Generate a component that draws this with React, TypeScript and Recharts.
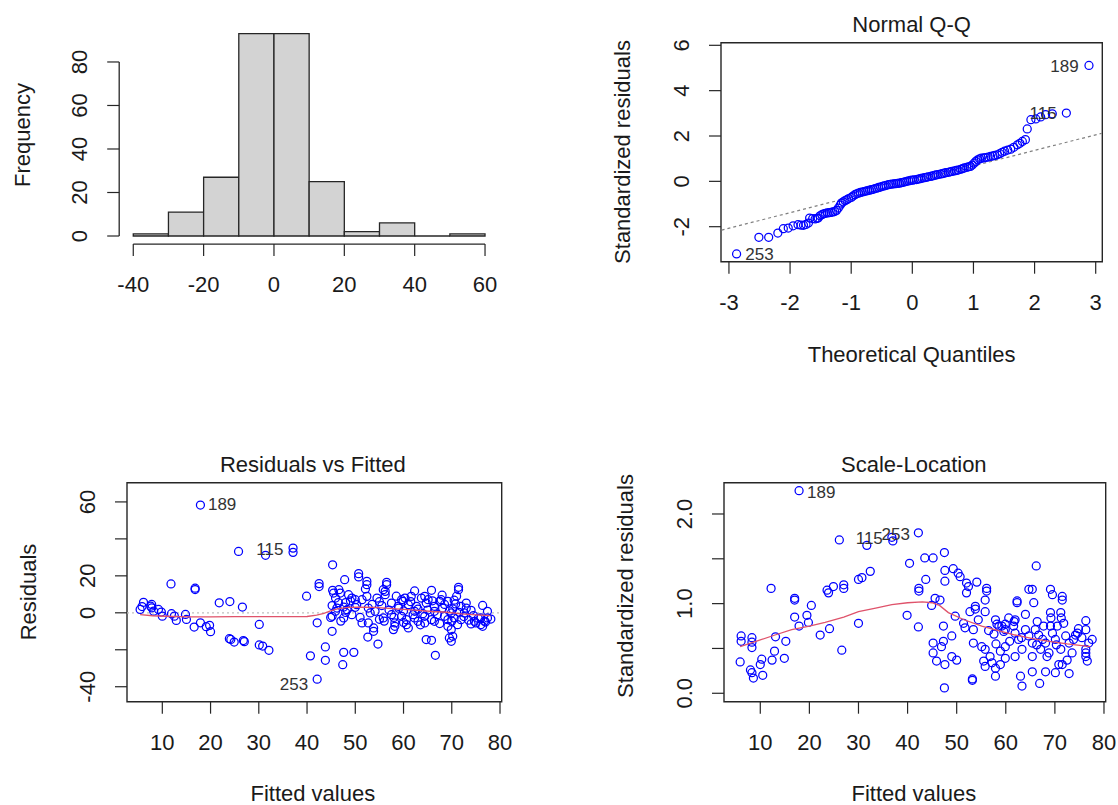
import React from 'react';
import { ScatterChart, Scatter, XAxis, YAxis, ReferenceArea, ReferenceLine } from 'recharts';

// ---------------- data ----------------
// Histogram of residuals
const histBinStarts = [-40, -30, -20, -10, 0, 10, 20, 30, 40, 50];
const histBinWidth = 10;
const histCounts = [1, 11, 27, 93, 93, 25, 2, 6, 0, 1];
const histXTicks = [-40, -20, 0, 20, 40, 60];
const histYTicks = [0, 20, 40, 60, 80];

// Normal Q-Q (theoretical quantile, standardized residual)
const qqPoints: [number, number][] = [
  [-2.875, -3.2], [-2.51, -2.47], [-2.35, -2.47], [-2.2, -2.28], [-2.11, -2.09], [-2.03, -2.06], [-1.95, -1.96],
  [-1.87, -1.91], [-1.82, -1.93], [-1.78, -1.94], [-1.74, -1.9], [-1.7, -1.84], [-1.68, -1.62], [-1.63, -1.64],
  [-1.59, -1.66], [-1.56, -1.63], [-1.54, -1.62], [-1.51, -1.52], [-1.48, -1.47], [-1.45, -1.43], [-1.42, -1.41],
  [-1.39, -1.39], [-1.36, -1.38], [-1.33, -1.37], [-1.3, -1.35], [-1.27, -1.33], [-1.24, -1.28], [-1.21, -1.18],
  [-1.18, -1.05], [-1.16, -0.96], [-1.13, -0.9], [-1.1, -0.85], [-1.07, -0.81], [-1.04, -0.76], [-1.0, -0.71],
  [-0.97, -0.65], [-0.94, -0.59], [-0.91, -0.55], [-0.88, -0.52], [-0.85, -0.49], [-0.82, -0.47], [-0.79, -0.45],
  [-0.76, -0.43], [-0.73, -0.41], [-0.7, -0.39], [-0.67, -0.37], [-0.64, -0.35], [-0.61, -0.32], [-0.58, -0.3],
  [-0.55, -0.27], [-0.52, -0.25], [-0.49, -0.22], [-0.46, -0.2], [-0.43, -0.18], [-0.39, -0.15], [-0.36, -0.13],
  [-0.33, -0.12], [-0.3, -0.11], [-0.27, -0.1], [-0.24, -0.09], [-0.21, -0.08], [-0.18, -0.06], [-0.15, -0.04],
  [-0.12, -0.02], [-0.09, 0.0], [-0.06, 0.02], [-0.03, 0.04], [0.0, 0.05], [0.03, 0.07], [0.07, 0.08], [0.1, 0.1],
  [0.13, 0.12], [0.16, 0.14], [0.2, 0.16], [0.23, 0.18], [0.26, 0.2], [0.3, 0.22], [0.33, 0.24], [0.36, 0.26],
  [0.39, 0.28], [0.42, 0.3], [0.46, 0.32], [0.49, 0.34], [0.52, 0.36], [0.55, 0.38], [0.59, 0.4], [0.62, 0.42],
  [0.65, 0.44], [0.69, 0.46], [0.72, 0.48], [0.75, 0.5], [0.79, 0.53], [0.82, 0.56], [0.85, 0.59], [0.89, 0.62],
  [0.92, 0.64], [0.95, 0.66], [0.98, 0.72], [1.01, 0.8], [1.04, 0.88], [1.07, 0.95], [1.1, 0.99], [1.13, 1.02],
  [1.17, 1.03], [1.2, 1.05], [1.24, 1.07], [1.28, 1.1], [1.32, 1.12], [1.35, 1.14], [1.39, 1.17], [1.43, 1.22],
  [1.47, 1.28], [1.51, 1.33], [1.56, 1.38], [1.61, 1.42], [1.66, 1.5], [1.72, 1.61], [1.76, 1.68], [1.8, 1.76],
  [1.85, 1.84], [1.88, 2.31], [1.94, 2.72], [2.02, 2.75], [2.1, 2.84], [2.18, 2.94], [2.29, 2.98], [2.52, 3.01],
  [2.89, 5.11],
];
const qqRefLine: [number, number][] = [[-3.12, -2.15], [3.1, 2.12]];
const qqXTicks = [-3, -2, -1, 0, 1, 2, 3];
const qqYTicks = [-2, 0, 2, 4, 6];
const qqIds = [{ x: 2.49, y: 5.1, t: '189' }, { x: 2.14, y: 3.01, t: '115' }, { x: -2.5, y: -3.19, t: '253' }];

// Residuals vs Fitted (fitted, residual)
const rvfPoints: [number, number][] = [
  [17.9, 58.3], [25.8, 33.2], [31.4, 31.1], [37.1, 35.0], [37.1, 32.7], [11.8, 15.6], [16.8, 13.3], [16.8, 12.6],
  [21.8, 5.4], [24.0, 6.1], [26.6, 3.1], [39.9, 9.0], [42.5, 15.8], [42.5, 14.2], [5.4, 1.8], [6.1, 5.7], [5.8, 3.4],
  [7.8, 4.5], [7.8, 2.7], [7.6, 3.6], [8.2, 0.9], [9.2, 1.8], [10.0, -1.8], [9.8, 0.4], [11.9, -0.5], [12.5, -1.8],
  [12.9, -4.1], [14.8, -0.9], [15.0, -3.6], [16.6, -7.7], [17.9, -5.4], [19.1, -7.5], [20.0, -10.2], [19.8, -6.8],
  [23.9, -14.0], [24.2, -14.4], [24.9, -15.8], [27.0, -15.6], [26.8, -15.0], [30.1, -6.3], [30.1, -17.4],
  [30.8, -18.0], [32.1, -20.3], [40.7, -23.3], [42.1, -35.9], [42.1, -5.4],
  [45.3, 26.0], [45.3, 12.2], [46.6, 12.5], [47.8, 17.9], [50.7, 21.2], [50.7, 19.4], [52.4, 17.0], [52.4, 15.2],
  [52.1, 12.9], [56.2, 11.6], [56.5, 16.5], [56.5, 15.2], [55.8, 12.5], [62.3, 11.8], [65.8, 12.2], [71.4, 13.8],
  [71.4, 12.5], [45.5, 10.7], [46.9, 10.7], [45.9, 8.0], [48.6, 9.8], [49.3, 8.0], [50.0, 7.1], [51.4, 7.1],
  [52.4, 8.9], [54.5, 8.0], [56.2, 9.8], [59.6, 7.1], [59.9, 6.2], [60.3, 8.0], [61.6, 8.9], [63.7, 8.0], [64.4, 8.9],
  [65.1, 7.1], [67.5, 6.2], [67.8, 7.1], [69.2, 6.2], [70.5, 6.8], [73.0, 5.3], [45.2, 3.9], [46.2, 2.6], [47.6, 3.1],
  [48.3, 1.7], [50.3, 4.4], [52.7, 2.6], [55.5, 3.9], [57.5, 5.3], [58.9, 3.5], [61.0, 4.4], [62.7, 3.5], [64.7, 5.3],
  [66.4, 3.5], [68.1, 2.6], [70.2, 2.1], [71.9, 3.5], [74.0, 1.35], [76.4, 4.0], [77.4, 0.8], [45.9, 0.8], [54.1, 0.8],
  [62.3, 0.8], [66.4, 0.8], [69.9, -0.1], [72.6, -0.1], [45.2, -1.9], [47.6, -2.8], [49.3, -1.0], [51.4, -5.5],
  [52.7, -5.5], [53.1, -0.1], [55.8, -2.8], [57.5, -1.0], [58.2, -5.5], [59.6, -1.9], [60.6, -3.7], [62.3, -2.8],
  [63.0, -4.6], [64.4, -1.9], [65.8, -3.7], [66.4, -4.6], [68.5, -1.9], [69.2, -3.7], [70.5, -2.8], [71.9, -3.7],
  [74.7, -4.6], [76.0, -2.8], [77.4, -2.8], [78.1, -3.4], [45.2, -10.0], [53.8, -8.2], [53.8, -10.0], [58.2, -7.3],
  [60.6, -6.4], [61.0, -8.2], [64.4, -5.5], [69.2, -7.3], [71.2, -6.4], [69.9, -9.1], [76.0, -6.4], [76.4, -7.3],
  [57.9, -9.1], [52.6, -13.1], [54.7, -16.9], [64.7, -14.5], [65.8, -14.9], [66.6, -23.0], [69.5, -13.6],
  [69.9, -15.4], [70.2, -12.7], [43.8, -18.5], [43.8, -25.7], [47.6, -21.4], [49.7, -21.4], [47.4, -28.1],
  [48.0, 5.5], [49.0, 6.5], [53.5, 4.5], [55.0, 6.0], [57.0, 1.5], [58.0, -2.5], [60.0, 1.0], [61.5, 6.0], [63.0, 2.0],
  [64.0, -0.5], [65.0, 1.5], [66.0, 6.5], [67.0, -1.0], [68.5, 4.5], [69.5, 1.0], [70.8, 4.8], [71.5, 0.3],
  [72.5, -2.0], [73.5, -4.0], [74.5, -1.5], [75.5, -3.0], [76.8, -4.5], [73.0, 2.5], [62.0, -1.0], [59.0, 2.5],
  [56.0, -4.5], [51.0, -2.5], [48.0, 0.2], [46.5, 5.5], [70.0, -4.5], [67.5, -5.8], [63.5, -6.5], [60.0, -5.2],
  [55.0, -3.5], [50.0, 3.0], [47.0, -4.5], [44.9, -2.5], [71.0, 9.0], [68.0, 9.5], [58.5, 9.0], [74.0, -6.0],
  [75.0, -5.5], [77.0, -5.0],
];
const rvfSmooth: [number, number][] = [
  [5.4, -1.0], [8, -1.6], [12, -2.0], [16, -2.2], [20, -2.2], [25, -2.1], [30, -2.1], [35, -2.1], [40, -2.0],
  [42, -1.2], [43.5, -0.3], [45, 1.2], [46.5, 2.3], [48.5, 2.9], [51, 3.1], [54, 2.9], [57, 2.4], [60, 1.9],
  [63, 1.3], [66, 0.7], [69, 0.3], [72, -0.6], [75, -1.1], [78, -1.5],
];
const fittedTicks = [10, 20, 30, 40, 50, 60, 70, 80];
const rvfYTicks = [-40, -20, 0, 20, 40, 60];
const rvfYTickLabels = [-40, 0, 20, 60];
const rvfIds = [{ x: 22.4, y: 58.7, t: '189' }, { x: 32.3, y: 34.6, t: '115' }, { x: 37.3, y: -38.6, t: '253' }];

// Scale-Location (fitted, sqrt |standardized residual|)
const slPoints: [number, number][] = [
  [17.9, 2.26], [26.1, 1.71], [31.7, 1.65], [36.8, 1.74], [37.0, 1.70], [42.2, 1.79], [40.4, 1.45], [32.4, 1.36],
  [30.0, 1.27], [30.7, 1.29], [27.0, 1.21], [27.0, 1.17], [24.9, 1.19], [23.6, 1.15], [23.9, 1.12], [12.2, 1.17],
  [17.0, 1.06], [17.0, 1.04], [20.4, 0.98], [17.0, 0.85], [19.5, 0.87], [19.8, 0.79], [17.9, 0.75], [13.1, 0.63],
  [15.2, 0.58], [22.2, 0.65], [24.1, 0.72], [30.0, 0.78], [39.9, 0.87], [42.2, 0.74], [26.6, 0.48], [6.1, 0.64],
  [6.1, 0.58], [8.3, 0.62], [8.3, 0.57], [8.3, 0.51], [5.9, 0.35], [8.0, 0.26], [8.6, 0.17], [10.5, 0.2], [8.3, 0.23],
  [10.3, 0.38], [12.4, 0.37], [12.9, 0.47], [14.9, 0.39], [10.0, 0.32],
  [43.5, 1.51], [45.2, 1.51], [47.5, 1.57], [66.2, 1.42], [47.6, 1.37], [49.3, 1.39], [50.3, 1.34], [50.7, 1.3],
  [47.6, 1.25], [43.7, 1.27], [42.3, 1.17], [42.3, 1.14], [52.0, 1.23], [52.4, 1.19], [52.0, 1.12], [54.1, 1.24],
  [56.1, 1.17], [56.1, 1.14], [55.8, 1.04], [45.6, 1.06], [46.6, 1.04], [44.9, 0.98], [53.8, 0.97], [53.8, 0.94],
  [62.3, 1.03], [62.3, 1.01], [65.7, 1.01], [64.7, 1.16], [65.4, 1.16], [69.1, 1.16], [69.5, 1.1], [71.5, 1.08],
  [71.5, 1.04], [47.3, 0.75], [64.0, 0.88], [69.1, 0.9], [71.2, 0.9], [76.3, 0.81], [76.3, 0.71], [49.7, 0.86],
  [51.4, 0.78], [51.7, 0.73], [53.4, 0.71], [52.7, 0.91], [55.8, 0.91], [54.4, 0.82], [45.2, 0.56], [47.3, 0.58],
  [46.9, 0.52], [49.0, 0.64], [45.2, 0.45], [45.9, 0.36], [47.6, 0.32], [49.0, 0.41], [50.0, 0.37], [47.5, 0.06],
  [53.2, 0.16], [53.2, 0.145], [63.0, 0.19], [63.3, 0.08], [65.4, 0.24], [66.9, 0.11], [68.1, 0.24], [70.1, 0.23],
  [72.9, 0.22], [71.5, 0.32], [76.3, 0.49], [76.3, 0.45], [76.3, 0.41], [76.6, 0.36], [77.6, 0.6], [76.9, 0.56],
  [55.1, 0.52], [55.8, 0.49], [56.8, 0.41], [57.2, 0.34], [55.8, 0.3], [57.9, 0.28], [58.9, 0.32], [57.9, 0.19],
  [59.9, 0.52], [58.9, 0.47], [53.4, 0.56], [57.9, 0.82], [58.2, 0.77], [59.2, 0.75], [59.9, 0.71], [60.6, 0.84],
  [61.6, 0.75], [61.9, 0.67], [62.6, 0.6], [63.3, 0.49], [64.0, 0.71], [64.7, 0.64], [65.4, 0.56], [66.0, 0.71],
  [66.7, 0.65], [67.1, 0.49], [67.7, 0.75], [68.1, 0.56], [68.8, 0.45], [69.5, 0.67], [70.1, 0.6], [70.5, 0.75],
  [71.2, 0.49], [71.8, 0.78], [72.2, 0.64], [72.9, 0.56], [73.5, 0.45], [74.2, 0.65], [74.6, 0.67], [72.5, 0.37],
  [70.8, 0.32], [68.4, 0.41], [65.4, 0.41], [61.9, 0.41], [59.9, 0.39], [55.5, 0.36], [61.9, 0.82], [59.6, 0.69],
  [66.4, 0.8], [69.1, 0.75], [71.3, 0.84], [69.2, 0.84], [61.7, 0.8], [59.9, 0.77], [58.6, 0.75], [57.6, 0.66],
  [56.5, 0.7], [63.2, 0.62], [67.5, 0.6], [73.8, 0.6], [75.5, 0.62], [74.8, 0.72], [60.8, 0.58], [58.0, 0.55],
  [70.3, 0.54], [66.3, 0.54],
];
const slSmooth: [number, number][] = [
  [5.9, 0.52], [9.7, 0.59], [13, 0.65], [16.4, 0.71], [20, 0.75], [23.2, 0.79], [27, 0.85], [30, 0.91], [33.5, 0.95],
  [36.8, 0.99], [40, 1.01], [43, 1.02], [45, 1.01], [46.5, 0.98], [48.3, 0.9], [51.5, 0.82], [55.1, 0.75],
  [58.5, 0.7], [61.9, 0.65], [65.5, 0.61], [68.8, 0.58], [72.5, 0.55], [77.2, 0.52],
];
const slYTicks = [0, 0.5, 1, 1.5, 2];
const slYTickLabels = [0, 1, 2];
const slIds = [{ x: 22.4, y: 2.25, t: '189' }, { x: 32.2, y: 1.73, t: '115' }, { x: 37.6, y: 1.78, t: '253' }];

// ---------------- styling / layout ----------------
const FONT = '"Liberation Sans", Arial, Helvetica, sans-serif';
const INK = '#1a1a1a';
const FRAME = '#262626';
const PT_BLUE = '#0000FF';
const SMOOTH_RED = '#DF536B';
const TICK_LEN = 12;
const LABEL_GAP = 40;
const AXW = 20;

type Box = { l: number; t: number; r: number; b: number };
type Frame = { left: number; top: number; w: number; h: number };

const marginFor = (f: Frame, b: Box) => ({
  left: b.l - f.left - AXW,
  top: b.t - f.top,
  right: f.left + f.w - b.r,
  bottom: f.top + f.h - b.b - AXW,
});

const toXY = (pts: [number, number][]) => pts.map(([x, y]) => ({ x, y }));

const xTick = (labels: number[], fmt: (v: number) => string) => (p: any) => {
  const { x, y, payload } = p;
  const v = payload.value;
  return (
    <g>
      <line x1={x} x2={x} y1={y} y2={y + TICK_LEN} stroke={FRAME} strokeWidth={1.2} />
      {labels.includes(v) ? (
        <text x={x} y={y + LABEL_GAP} dy="0.36em" textAnchor="middle" fontFamily={FONT} fontSize={22} fill={INK}>
          {fmt(v)}
        </text>
      ) : null}
    </g>
  );
};

const yTick = (labels: number[], fmt: (v: number) => string) => (p: any) => {
  const { x, y, payload } = p;
  const v = payload.value;
  const tx = x - LABEL_GAP;
  return (
    <g>
      <line x1={x} x2={x - TICK_LEN} y1={y} y2={y} stroke={FRAME} strokeWidth={1.2} />
      {labels.includes(v) ? (
        <text x={tx} y={y} dy="0.36em" textAnchor="middle" transform={`rotate(-90 ${tx} ${y})`}
          fontFamily={FONT} fontSize={22} fill={INK}>
          {fmt(v)}
        </text>
      ) : null}
    </g>
  );
};

const circleShape = (p: any) =>
  p.cx == null ? <g /> : <circle cx={p.cx} cy={p.cy} r={4} fill="none" stroke={PT_BLUE} strokeWidth={1.25} />;
const emptyShape = () => <g />;
const idShape = (p: any) =>
  p.cx == null ? <g /> : (
    <text x={p.cx} y={p.cy} dy="0.36em" textAnchor="middle" fontFamily={FONT} fontSize={17} fill="#333">
      {p.payload.t}
    </text>
  );

const Caption = ({ x, y, text, vertical }: { x: number; y: number; text: string; vertical?: boolean }) => (
  <div
    style={{
      position: 'absolute', left: x - 250, top: y - 10, width: 500, height: 20, lineHeight: '20px',
      textAlign: 'center', fontFamily: FONT, fontSize: 22, color: INK, whiteSpace: 'nowrap',
      transform: vertical ? 'rotate(-90deg)' : undefined, pointerEvents: 'none',
    }}
  >
    {text}
  </div>
);

const fmtInt = (v: number) => String(v);
const fmtOne = (v: number) => v.toFixed(1);

type PanelProps = {
  frame: Frame; box: Box; xDomain: [number, number]; yDomain: [number, number];
  xTicks: number[]; yTicks: number[]; xLabels: number[]; yLabels: number[];
  xFmt: (v: number) => string; yFmt: (v: number) => string; children: React.ReactNode;
};

const Panel = ({ frame, box, xDomain, yDomain, xTicks, yTicks, xLabels, yLabels, xFmt, yFmt, children }: PanelProps) => (
  <div style={{ position: 'absolute', left: frame.left, top: frame.top, width: frame.w, height: frame.h }}>
    <ScatterChart width={frame.w} height={frame.h} margin={marginFor(frame, box)}>
      <XAxis type="number" dataKey="x" domain={xDomain} ticks={xTicks} interval={0} allowDataOverflow
        axisLine={false} tickLine={false} tickSize={0} tickMargin={0} height={AXW} tick={xTick(xLabels, xFmt)} />
      <YAxis type="number" dataKey="y" domain={yDomain} ticks={yTicks} interval={0} allowDataOverflow
        axisLine={false} tickLine={false} tickSize={0} tickMargin={0} width={AXW} tick={yTick(yLabels, yFmt)} />
      {children}
    </ScatterChart>
  </div>
);

// geometry
const F1: Frame = { left: 0, top: 0, w: 559, h: 400 };
const B1: Box = { l: 119.2, t: 25.6, r: 499.1, b: 244.1 };
const F2: Frame = { left: 559, top: 0, w: 559, h: 400 };
const B2: Box = { l: 721, t: 42.7, r: 1102.3, b: 261.7 };
const F3: Frame = { left: 0, top: 400, w: 559, h: 405 };
const B3: Box = { l: 127, t: 482.7, r: 501.7, b: 701.7 };
const F4: Frame = { left: 559, top: 400, w: 559, h: 405 };
const B4: Box = { l: 724, t: 482.7, r: 1105.7, b: 701.7 };

const D1x: [number, number] = [-44, 64];
const D1y: [number, number] = [-3.72, 96.72];
const D2x: [number, number] = [-3.13, 3.108];
const D2y: [number, number] = [-3.544, 6.115];
const D3x: [number, number] = [2.68, 80.35];
const D3y: [number, number] = [-48.1, 70.4];
const D4x: [number, number] = [2.61, 80.35];
const D4y: [number, number] = [-0.094, 2.349];

const frameRect = (dx: [number, number], dy: [number, number]) => (
  <ReferenceArea key="frame" x1={dx[0]} x2={dx[1]} y1={dy[0]} y2={dy[1]} fill="none" fillOpacity={0}
    stroke={FRAME} strokeWidth={1.4} ifOverflow="visible" />
);

export default function App() {
  const histData = histBinStarts.map((s, i) => ({ x: s + histBinWidth / 2, y: histCounts[i] }));
  const cx = (b: Box) => (b.l + b.r) / 2;
  const cy = (b: Box) => (b.t + b.b) / 2;
  return (
    <div style={{ position: 'absolute', left: 0, top: 0, width: 1118, height: 805, background: '#fff', overflow: 'hidden' }}>
      {/* Histogram */}
      <Panel frame={F1} box={B1} xDomain={D1x} yDomain={D1y} xTicks={histXTicks} yTicks={histYTicks}
        xLabels={histXTicks} yLabels={histYTicks} xFmt={fmtInt} yFmt={fmtInt}>
        {[
          ...histBinStarts.map((s, i) =>
            histCounts[i] > 0 ? (
              <ReferenceArea key={`bin${i}`} x1={s} x2={s + histBinWidth} y1={0} y2={histCounts[i]}
                fill="#D3D3D3" fillOpacity={1} stroke={FRAME} strokeWidth={1.3} ifOverflow="visible" />
            ) : (
              <ReferenceLine key={`bin${i}`} segment={[{ x: s, y: 0 }, { x: s + histBinWidth, y: 0 }]}
                stroke={FRAME} strokeWidth={1.3} ifOverflow="visible" />
            )
          ),
          <ReferenceLine key="xaxis" segment={[{ x: histXTicks[0], y: D1y[0] }, { x: histXTicks[histXTicks.length - 1], y: D1y[0] }]}
            stroke={FRAME} strokeWidth={1.3} ifOverflow="visible" />,
          <ReferenceLine key="yaxis" segment={[{ x: D1x[0], y: histYTicks[0] }, { x: D1x[0], y: histYTicks[histYTicks.length - 1] }]}
            stroke={FRAME} strokeWidth={1.3} ifOverflow="visible" />,
          <Scatter key="hd" data={histData} shape={emptyShape} isAnimationActive={false} />,
        ]}
      </Panel>

      {/* Normal Q-Q */}
      <Panel frame={F2} box={B2} xDomain={D2x} yDomain={D2y} xTicks={qqXTicks} yTicks={qqYTicks}
        xLabels={qqXTicks} yLabels={qqYTicks} xFmt={fmtInt} yFmt={fmtInt}>
        {[
          frameRect(D2x, D2y),
          <ReferenceLine key="qql" segment={[{ x: qqRefLine[0][0], y: qqRefLine[0][1] }, { x: qqRefLine[1][0], y: qqRefLine[1][1] }]}
            stroke="#808080" strokeWidth={1.2} strokeDasharray="3 3" ifOverflow="visible" />,
          <Scatter key="qqp" data={toXY(qqPoints)} shape={circleShape} isAnimationActive={false} />,
          <Scatter key="qqid" data={qqIds} shape={idShape} isAnimationActive={false} />,
        ]}
      </Panel>

      {/* Residuals vs Fitted */}
      <Panel frame={F3} box={B3} xDomain={D3x} yDomain={D3y} xTicks={fittedTicks} yTicks={rvfYTicks}
        xLabels={fittedTicks} yLabels={rvfYTickLabels} xFmt={fmtInt} yFmt={fmtInt}>
        {[
          frameRect(D3x, D3y),
          <ReferenceLine key="zero" y={0} stroke="#BEBEBE" strokeWidth={1.3} strokeDasharray="2 3" />,
          <Scatter key="rvfp" data={toXY(rvfPoints)} shape={circleShape} isAnimationActive={false} />,
          <Scatter key="rvfs" data={toXY(rvfSmooth)} shape={emptyShape} line={{ stroke: SMOOTH_RED, strokeWidth: 1.3 }}
            lineType="joint" isAnimationActive={false} />,
          <Scatter key="rvfid" data={rvfIds} shape={idShape} isAnimationActive={false} />,
        ]}
      </Panel>

      {/* Scale-Location */}
      <Panel frame={F4} box={B4} xDomain={D4x} yDomain={D4y} xTicks={fittedTicks} yTicks={slYTicks}
        xLabels={fittedTicks} yLabels={slYTickLabels} xFmt={fmtInt} yFmt={fmtOne}>
        {[
          frameRect(D4x, D4y),
          <Scatter key="slp" data={toXY(slPoints)} shape={circleShape} isAnimationActive={false} />,
          <Scatter key="sls" data={toXY(slSmooth)} shape={emptyShape} line={{ stroke: SMOOTH_RED, strokeWidth: 1.3 }}
            lineType="joint" isAnimationActive={false} />,
          <Scatter key="slid" data={slIds} shape={idShape} isAnimationActive={false} />,
        ]}
      </Panel>

      {/* titles and axis captions */}
      <Caption x={23} y={cy(B1)} text="Frequency" vertical />

      <Caption x={cx(B2)} y={B2.t - 18} text="Normal Q-Q" />
      <Caption x={cx(B2)} y={B2.b + 93} text="Theoretical Quantiles" />
      <Caption x={B2.l - 98} y={cy(B2)} text="Standardized residuals" vertical />

      <Caption x={cx(B3) - 1.5} y={B3.t - 18} text="Residuals vs Fitted" />
      <Caption x={cx(B3) - 1.5} y={B3.b + 92} text="Fitted values" />
      <Caption x={B3.l - 98} y={cy(B3)} text="Residuals" vertical />

      <Caption x={cx(B4) - 1} y={B4.t - 18} text="Scale-Location" />
      <Caption x={cx(B4) - 1} y={B4.b + 92} text="Fitted values" />
      <Caption x={B4.l - 98} y={cy(B4) - 6} text="Standardized residuals" vertical />
    </div>
  );
}
